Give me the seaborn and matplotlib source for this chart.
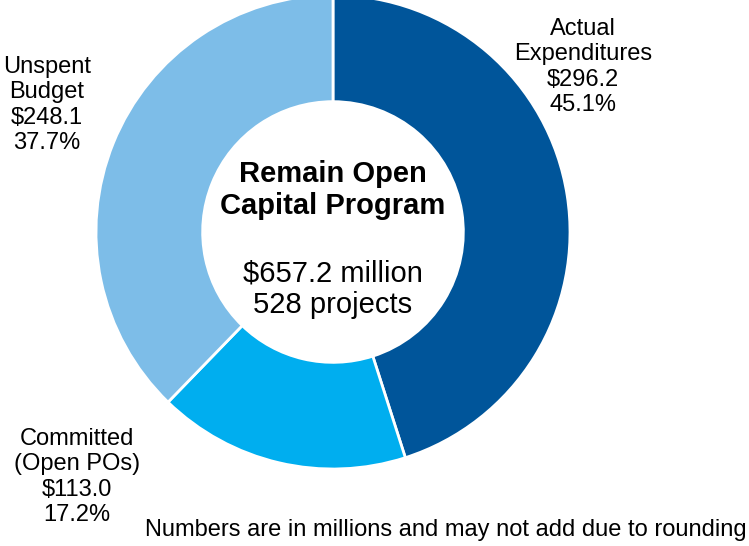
import matplotlib
matplotlib.use('Agg')
import matplotlib.pyplot as plt
import seaborn as sns

sns.set_theme(style="white")
plt.rcParams['font.family'] = ['Liberation Sans', 'DejaVu Sans']
plt.rcParams['text.color'] = 'black'

# Data (millions)
categories = ['Actual\nExpenditures', 'Committed\n(Open POs)', 'Unspent\nBudget']
values = [296.2, 113.0, 248.1]
percents = ['45.1%', '17.2%', '37.7%']
colors = sns.color_palette(['#00559a', '#00aeef', '#7dbde8'])

W, H = 749, 546
fig = plt.figure(figsize=(W / 100, H / 100), dpi=100)
ax = fig.add_axes([0, 0, 1, 1])

cx, cy, r = 333, H - 232, 237
ax.pie(values, colors=colors, startangle=90, counterclock=False,
       center=(cx, cy), radius=r, frame=True,
       wedgeprops=dict(width=r * 0.45, edgecolor='white', linewidth=2))
ax.set_xlim(0, W)
ax.set_ylim(0, H)
ax.set_aspect('equal')
ax.axis('off')

# Outer labels
label_pos = [(583, 67), (77, 477), (47, 105)]
for name, val, pct, (x, y) in zip(categories, values, percents, label_pos):
    ax.text(x, H - y, f"{name}\n${val:.1f}\n{pct}", ha='center', va='center',
            fontsize=17, linespacing=1.2, color='black')

# Center text
ax.text(cx, H - 190, 'Remain Open\nCapital Program', ha='center', va='center',
        fontsize=21, fontweight='bold', linespacing=1.22, color='black')
ax.text(cx, H - 289, '$657.2 million\n528 projects', ha='center', va='center',
        fontsize=21, linespacing=1.18, color='black')

ax.text(747, H - 530, 'Numbers are in millions and may not add due to rounding',
        ha='right', va='center', fontsize=17, color='black')

fig.savefig('out.png', dpi=100)
plt.close(fig)
